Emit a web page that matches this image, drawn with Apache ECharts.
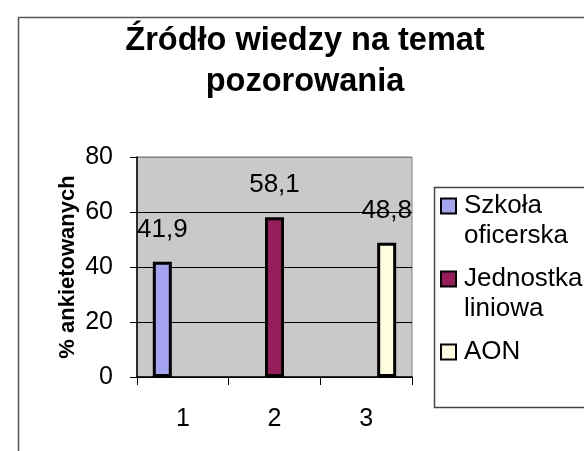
<!DOCTYPE html>
<html>
<head>
<meta charset="utf-8">
<script src="https://cdn.jsdelivr.net/npm/echarts@6/dist/echarts.min.js"></script>
<style>
  html, body { margin: 0; padding: 0; background: #fff; }
  #main { width: 584px; height: 451px; }
</style>
</head>
<body>
<div id="main"></div>
<script>
// dane
var categories = ['1', '2', '3'];
var seriesNames = ['Szkoła oficerska', 'Jednostka liniowa', 'AON'];
var szkolaOficerska = [41.9, '-', '-'];
var jednostkaLiniowa = ['-', 58.1, '-'];
var aon = ['-', '-', 48.8];
var yTicks = [0, 20, 40, 60, 80];

var colors = ['#a3a3f2', '#961d59', '#fffde0'];
var font = 'Liberation Sans, Arial, sans-serif';

var myChart = echarts.init(document.getElementById('main'));

function barSeries(name, data, color) {
    return {
        name: name,
        type: 'bar',
        data: data,
        barWidth: 19,
        barGap: '8%',
        itemStyle: { color: color, borderColor: '#000', borderWidth: 3 },
        label: {
            show: true,
            position: 'top',
            distance: 19,
            fontSize: 26,
            fontFamily: font,
            color: '#000',
            formatter: function (p) { return String(p.value).replace('.', ','); }
        }
    };
}

// legenda: ikona na wysokosci pierwszej linii tekstu (pusta linia nad tekstem)
function legendText(name) {
    var parts = name.split(' ');
    if (parts.length === 1) parts.push('');
    return '\n' + parts.join('\n');
}

var option = {
    backgroundColor: '#fff',
    animation: false,
    title: {
        text: 'Źródło wiedzy na temat\npozorowania',
        left: 300,
        textAlign: 'center',
        top: 16,
        textStyle: { fontSize: 32.5, fontWeight: 'bold', fontFamily: font, color: '#000', lineHeight: 41 }
    },
    legend: {
        orient: 'vertical',
        left: 440,
        top: 161,
        padding: 0,
        itemGap: -17,
        itemWidth: 15,
        itemHeight: 15,
        icon: 'rect',
        data: seriesNames,
        formatter: legendText,
        textStyle: { fontSize: 26, fontFamily: font, color: '#000', lineHeight: 30, padding: [0, 0, 0, 3] }
    },
    grid: { left: 137, right: 172, top: 157, bottom: 74, show: true, backgroundColor: '#c9c9c9', borderColor: '#808080', borderWidth: 1 },
    xAxis: {
        type: 'category',
        data: categories,
        axisLine: { lineStyle: { color: '#000', width: 1.5 } },
        axisTick: { show: true, length: 8, lineStyle: { color: '#000' } },
        axisLabel: { fontSize: 25, fontFamily: font, color: '#000', margin: 30 }
    },
    yAxis: {
        type: 'value',
        min: yTicks[0],
        max: yTicks[yTicks.length - 1],
        interval: 20,
        name: '% ankietowanych',
        nameLocation: 'middle',
        nameGap: 58,
        nameTextStyle: { fontSize: 22, fontWeight: 'bold', fontFamily: font, color: '#000' },
        axisLine: { show: true, lineStyle: { color: '#000', width: 1.5 } },
        axisTick: { show: true, length: 7, lineStyle: { color: '#000' } },
        axisLabel: { fontSize: 25, fontFamily: font, color: '#000', margin: 24 },
        splitLine: { show: true, lineStyle: { color: ['#000', '#000', '#000', '#000', '#808080'], width: 1 } }
    },
    graphic: [
        { type: 'rect', left: 16, top: 15, shape: { width: 620, height: 500 }, style: { fill: 'none', stroke: '#555', lineWidth: 1.5 }, silent: true, z: -1 },
        { type: 'rect', left: 432, top: 185, shape: { width: 200, height: 220 }, style: { fill: 'none', stroke: '#444', lineWidth: 1.5 }, silent: true }
    ],
    series: [
        barSeries(seriesNames[0], szkolaOficerska, colors[0]),
        barSeries(seriesNames[1], jednostkaLiniowa, colors[1]),
        barSeries(seriesNames[2], aon, colors[2])
    ]
};

myChart.setOption(option);
</script>
</body>
</html>
